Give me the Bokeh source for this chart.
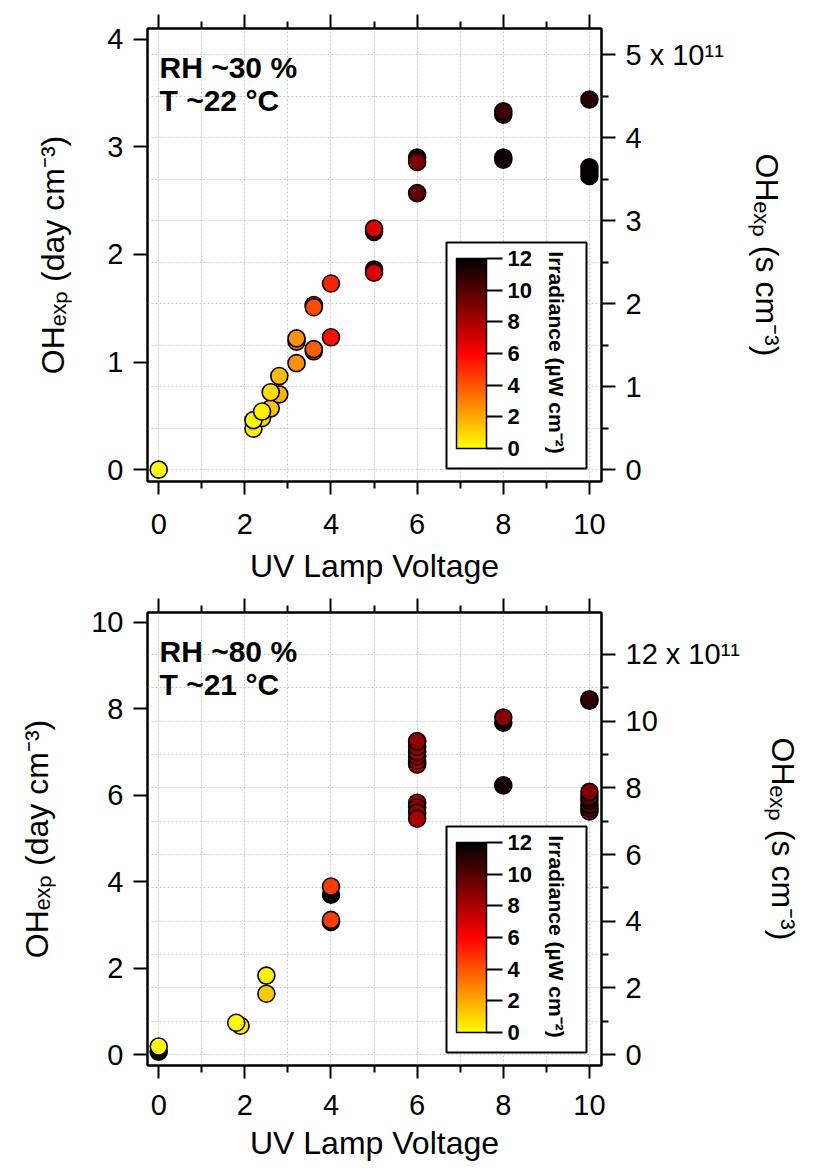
import numpy as np
from bokeh.embed import file_html
from bokeh.layouts import column
from bokeh.models import (BoxAnnotation, ColorBar, ColumnDataSource, CustomJSTickFormatter,
                          FixedTicker, Grid, Label, LinearAxis, LinearColorMapper, Range1d)
from bokeh.plotting import figure
from bokeh.resources import INLINE

# ---------------- data ----------------
# Panel 1: RH ~30 %, T ~22 C
top_voltage = [0, 2.2, 2.4, 2.6, 2.2, 2.4, 2.8, 2.6, 2.8, 3.2, 3.2, 3.2, 3.6, 3.6, 3.6, 3.6,
               4.0, 4.0, 5.0, 5.0, 5.0, 5.0, 6.0, 6.0, 6.0, 8.0, 8.0, 8.0, 8.0, 10, 10, 10, 10]
top_ohexp_day = [0.00, 0.38, 0.48, 0.57, 0.46, 0.54, 0.70, 0.72, 0.87, 0.99, 1.19, 1.22, 1.10, 1.12,
                 1.53, 1.51, 1.23, 1.73, 1.86, 1.83, 2.21, 2.24, 2.57, 2.90, 2.86, 2.88, 2.90, 3.30,
                 3.33, 3.44, 2.73, 2.77, 2.81]
top_irradiance = [0.0, 0.4, 1.0, 1.4, 0.2, 0.3, 1.8, 0.8, 1.6, 2.6, 3.2, 2.6, 4.5, 3.8, 6.0, 4.2,
                  5.6, 5.2, 11.0, 6.8, 11.0, 6.8, 9.8, 11.5, 9.0, 11.8, 11.6, 11.0, 10.5, 11.0,
                  12.0, 12.0, 11.8]

# Panel 2: RH ~80 %, T ~21 C
bot_voltage = [0, 0, 1.9, 1.8, 2.5, 2.5, 4, 4, 4, 4, 6, 6, 6, 6, 6, 6, 6, 6, 6, 6, 6,
               8, 8, 8, 10, 10, 10, 10, 10, 10, 10, 10]
bot_ohexp_day = [0.07, 0.19, 0.67, 0.74, 1.41, 1.83, 3.70, 3.89, 3.07, 3.12, 5.83, 5.72, 5.60, 5.46,
                 6.71, 6.80, 6.90, 7.00, 7.12, 7.25, 7.25, 6.23, 7.68, 7.80, 5.63, 5.70, 5.78, 5.88,
                 5.96, 6.08, 8.19, 8.22]
bot_irradiance = [12.0, 0.0, 0.6, 0.2, 1.3, 0.3, 12.0, 4.6, 11.0, 4.6, 8.2, 8.3, 8.5, 8.0,
                  7.8, 8.0, 8.4, 8.2, 8.5, 8.6, 8.6, 11.5, 12.0, 8.8, 7.8, 9.5, 10.0, 11.0,
                  10.0, 9.0, 12.0, 10.8]

x_ticks = [0, 2, 4, 6, 8, 10]
x_minor = [1, 3, 5, 7, 9]
top_left_ticks = [0, 1, 2, 3, 4]
bot_left_ticks = [0, 2, 4, 6, 8, 10]
top_right_ticks = [0, 1, 2, 3, 4, 5]
top_right_labels = ["0", "1", "2", "3", "4", "5 x 10\u00b9\u00b9"]
top_right_minor = [0.5, 1.5, 2.5, 3.5, 4.5]
bot_right_ticks = [0, 2, 4, 6, 8, 10, 12]
bot_right_labels = ["0", "2", "4", "6", "8", "10", "12 x 10\u00b9\u00b9"]
bot_right_minor = [1, 3, 5, 7, 9, 11]
cbar_ticks = [0, 2, 4, 6, 8, 10, 12]

# 1 day cm^-3 (at [OH] = 1.5e6 cm^-3) expressed in 1e11 s cm^-3
DAY_TO_S11 = 1.5e6 * 86400 / 1e11

FONT = "Liberation Sans"

# yellow -> red -> black palette
palette = []
for t in np.linspace(0, 1, 256):
    v = t * 12
    if v <= 6:
        r, g = 255, int(round(255 * (1 - v / 6)))
    else:
        r, g = int(round(255 * (1 - (v - 6) / 6))), 0
    palette.append("#%02x%02x%02x" % (r, g, 0))
mapper = LinearColorMapper(palette=palette, low=0, high=12)

FW, FH = 454, 453


def make_panel(volt, oh, irr, yr, left_ticks, right_ticks, right_labels, right_minor,
               rh_text, t_text, top_b, bottom_b, xlab_standoff, xtitle_standoff):
    xr = (-0.26, 10.28)
    p = figure(frame_width=FW, frame_height=FH,
               x_range=Range1d(*xr), y_range=Range1d(*yr),
               min_border_left=147, min_border_right=200, min_border_top=top_b,
               min_border_bottom=bottom_b, toolbar_location=None, output_backend="svg",
               background_fill_color="white", border_fill_color="white")
    p.outline_line_color = "black"
    p.outline_line_width = 2
    p.outline_line_alpha = 1
    p.extra_y_ranges = {"s": Range1d(yr[0] * DAY_TO_S11, yr[1] * DAY_TO_S11)}

    # grids
    p.xgrid.ticker = FixedTicker(ticks=list(range(0, 11)))
    p.xgrid.grid_line_color = "#c8c8c8"
    p.xgrid.grid_line_dash = "2 2"
    p.xgrid.grid_line_width = 1
    p.ygrid.visible = False
    g = Grid(dimension=1, y_range_name="s",
             ticker=FixedTicker(ticks=sorted(right_ticks + right_minor)),
             grid_line_color="#c8c8c8", grid_line_dash="2 2", grid_line_width=1)
    p.add_layout(g)

    def style(ax):
        ax.axis_line_width = 2
        ax.major_tick_line_width = 2
        ax.minor_tick_line_width = 2
        ax.major_tick_out = 14
        ax.major_tick_in = 0
        ax.minor_tick_out = 7
        ax.minor_tick_in = 0
        ax.major_label_text_font = FONT
        ax.major_label_text_font_size = "29px"
        ax.major_label_text_color = "black"
        ax.axis_label_text_font = FONT
        ax.axis_label_text_font_size = "32px"
        ax.axis_label_text_font_style = "normal"
        ax.axis_label_text_color = "black"

    # bottom axis
    xa = p.xaxis[0]
    xa.ticker = FixedTicker(ticks=x_ticks, minor_ticks=x_minor)
    xa.axis_label = "UV Lamp Voltage"
    style(xa)
    xa.major_tick_out = 13
    xa.major_label_standoff = xlab_standoff
    xa.axis_label_standoff = xtitle_standoff

    # top axis (ticks only)
    ta = LinearAxis(ticker=FixedTicker(ticks=x_ticks, minor_ticks=x_minor),
                    formatter=CustomJSTickFormatter(code="return ''"))
    style(ta)
    p.add_layout(ta, "above")

    # left axis
    ya = p.yaxis[0]
    ya.ticker = FixedTicker(ticks=left_ticks, minor_ticks=[])
    ya.axis_label = "OH\u2091\u2093\u209a (day cm\u207b\u00b3)"
    style(ya)
    ya.major_label_standoff = 10
    ya.axis_label_standoff = 33

    # right axis
    ra = LinearAxis(y_range_name="s", ticker=FixedTicker(ticks=right_ticks, minor_ticks=right_minor),
                    axis_label="OH\u2091\u2093\u209a (s cm\u207b\u00b3)")
    ra.major_label_overrides = {t: s for t, s in zip(right_ticks, right_labels)}
    style(ra)
    ra.major_label_standoff = 10
    ra.axis_label_standoff = 22
    p.add_layout(ra, "right")

    src = ColumnDataSource(dict(v=volt, oh=oh, irr=irr))
    p.scatter("v", "oh", source=src, size=17, marker="circle",
              fill_color={"field": "irr", "transform": mapper},
              line_color="black", line_width=1.6)

    # helpers: frame-pixel offsets (from frame top-left) -> data coords
    def dx(px):
        return xr[0] + px / FW * (xr[1] - xr[0])

    def dy(py):
        return yr[1] - py / FH * (yr[1] - yr[0])

    box = BoxAnnotation(left=dx(299), right=dx(439), top=dy(214), bottom=dy(440),
                        fill_color="white", fill_alpha=1, line_color="black",
                        line_alpha=1, line_width=2)
    p.add_layout(box)

    cb = ColorBar(color_mapper=mapper, ticker=FixedTicker(ticks=cbar_ticks),
                  location=(309, 33), width=30, height=190, padding=0, margin=0,
                  bar_line_color="black", bar_line_width=1.5,
                  major_tick_out=16, major_tick_in=0, major_tick_line_color="black",
                  major_tick_line_width=2, minor_tick_line_color=None,
                  label_standoff=5, major_label_text_font=FONT,
                  major_label_text_font_size="22px", major_label_text_font_style="bold",
                  major_label_text_color="black",
                  background_fill_alpha=0, border_line_color=None)
    p.add_layout(cb)

    p.add_layout(Label(x=dx(409), y=dy(324), text="Irradiance (\u00b5W cm\u207b\u00b2)",
                       angle=-np.pi / 2, text_align="center", text_baseline="middle",
                       text_font=FONT, text_font_size="21px", text_font_style="bold",
                       text_color="black"))

    for txt, base in ((rh_text, 39), (t_text, 72)):
        p.add_layout(Label(x=dx(12), y=dy(base), text=txt, text_align="left",
                           text_baseline="alphabetic", text_font=FONT,
                           text_font_size="30px", text_font_style="bold", text_color="black"))
    return p


p1 = make_panel(top_voltage, top_ohexp_day, top_irradiance, (-0.11, 4.10), top_left_ticks,
                top_right_ticks, top_right_labels, top_right_minor,
                "RH ~30 %", "T ~22 \u00b0C", 28, 114, 19, 11)
p2 = make_panel(bot_voltage, bot_ohexp_day, bot_irradiance, (-0.25, 10.23), bot_left_ticks,
                bot_right_ticks, bot_right_labels, bot_right_minor,
                "RH ~80 %", "T ~21 \u00b0C", 17, 90, 16, 7)

layout = column(p1, p2, spacing=0)
open("out.html", "w").write(file_html(layout, INLINE))
